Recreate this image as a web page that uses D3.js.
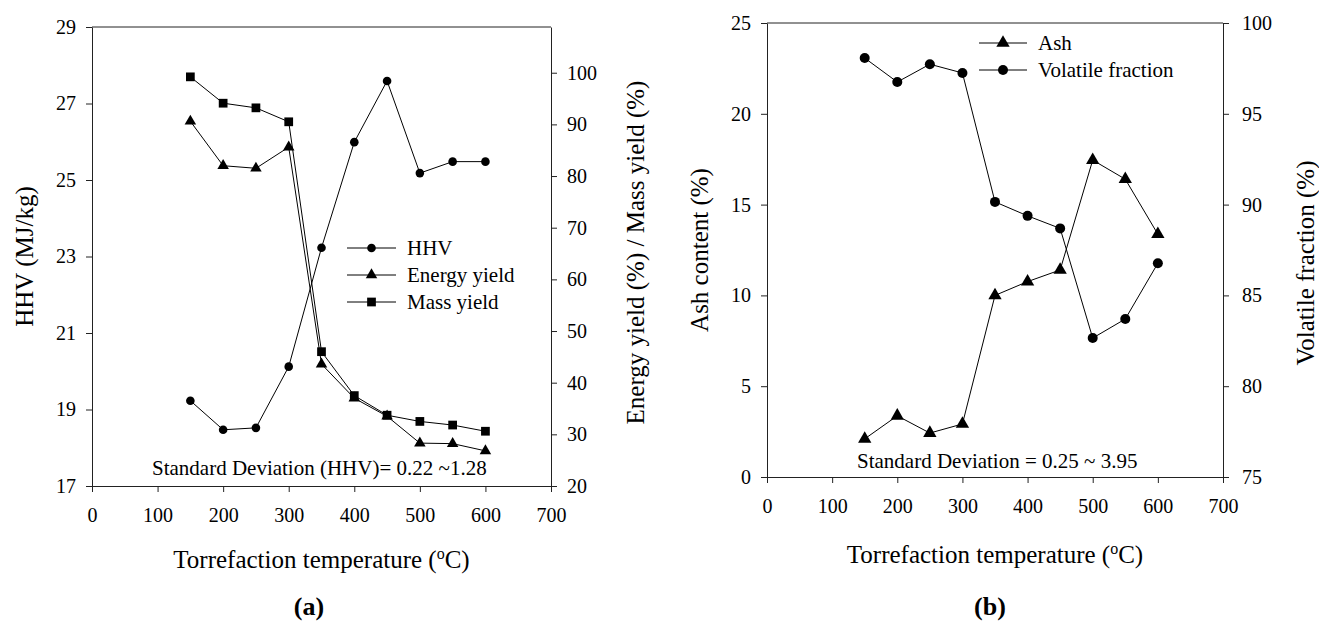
<!DOCTYPE html>
<html>
<head>
<meta charset="utf-8">
<script src="https://cdn.jsdelivr.net/npm/d3@7"></script>
<style>
  body { margin: 0; background: #fff; }
  svg { display: block; font-family: "Liberation Serif", "Times New Roman", serif; }
  .tick text { font-size: 20px; fill: #000; font-family: "Liberation Serif", "Times New Roman", serif; }
  .domain, .tick line { stroke: #222; }
</style>
</head>
<body>
<svg id="chart" width="1319" height="621"></svg>
<script>
// torrefaction temperatures (oC)
const temps = [150, 200, 250, 300, 350, 400, 450, 500, 550, 600];
// panel (a)
const hhv = [19.23, 18.47, 18.52, 20.12, 23.23, 25.99, 27.59, 25.18, 25.48, 25.48];
const energyYield = [90.6, 82.0, 81.5, 85.6, 43.6, 37.0, 33.5, 28.3, 28.2, 26.8];
const massYield = [99.2, 94.1, 93.2, 90.5, 46.0, 37.5, 33.7, 32.5, 31.8, 30.6];
// panel (b)
const ash = [2.1, 3.37, 2.42, 2.92, 10.0, 10.76, 11.4, 17.45, 16.4, 13.37];
const volatileFrac = [98.07, 96.75, 97.73, 97.25, 90.15, 89.38, 88.69, 82.65, 83.7, 86.77];
// tick values
const xTicks = [0, 100, 200, 300, 400, 500, 600, 700];
const hhvTicks = [17, 19, 21, 23, 25, 27, 29];
const yieldTicks = [20, 30, 40, 50, 60, 70, 80, 90, 100];
const ashTicks = [0, 5, 10, 15, 20, 25];
const volTicks = [75, 80, 85, 90, 95, 100];

const svg = d3.select('#chart');

function marker(g, type, x, y, r) {
  if (type === 'circle') {
    g.append('circle').attr('cx', x).attr('cy', y).attr('r', r).attr('fill', '#000');
  } else {
    const sym = type === 'square' ? d3.symbolSquare : d3.symbolTriangle;
    const size = type === 'square' ? (r * 1.9) ** 2 : (r * 2.3) ** 2 * 0.433;
    g.append('path')
     .attr('d', d3.symbol().type(sym).size(size)())
     .attr('transform', `translate(${x},${y})`)
     .attr('fill', '#000');
  }
}

function panel(p) {
  const g = svg.append('g');
  const x = d3.scaleLinear().domain([0, 700]).range([p.left, p.right]);
  const yL = d3.scaleLinear().domain(p.leftDomain).range([p.bottom, p.top]);
  const yR = d3.scaleLinear().domain(p.rightDomain).range([p.bottom, p.top]);

  // frame top
  g.append('line')
   .attr('x1', p.left).attr('x2', p.right)
   .attr('y1', p.top).attr('y2', p.top)
   .attr('stroke', '#222');

  g.append('g')
   .attr('transform', `translate(0,${p.bottom})`)
   .call(d3.axisBottom(x).tickValues(xTicks).tickSize(6).tickSizeOuter(0).tickPadding(16));
  g.append('g')
   .attr('transform', `translate(${p.left},0)`)
   .call(d3.axisLeft(yL).tickValues(p.leftTicks).tickSize(6).tickSizeOuter(0).tickPadding(10));
  g.append('g')
   .attr('transform', `translate(${p.right},0)`)
   .call(d3.axisRight(yR).tickValues(p.rightTicks).tickSize(6).tickSizeOuter(0).tickPadding(p.rPad));
  g.selectAll('.domain').attr('stroke', '#222');

  const line = d3.line();
  p.series.forEach(s => {
    const sc = s.axis === 'L' ? yL : yR;
    const pts = temps.map((t, i) => [x(t), sc(s.values[i])]);
    g.append('path').attr('d', line(pts)).attr('fill', 'none')
     .attr('stroke', '#000').attr('stroke-width', 1);
    pts.forEach(pt => marker(g, s.shape, pt[0], pt[1], s.r));
  });

  // legend
  p.series.forEach((s, i) => {
    const ly = p.legend.y + i * p.legend.dy;
    g.append('line').attr('x1', p.legend.x1).attr('x2', p.legend.x2)
     .attr('y1', ly).attr('y2', ly).attr('stroke', '#000');
    marker(g, s.shape, (p.legend.x1 + p.legend.x2) / 2, ly, s.r);
    g.append('text').attr('x', p.legend.tx).attr('y', ly).attr('dy', '0.35em')
     .attr('font-size', 21).text(s.name);
  });

  // standard deviation note
  g.append('text').attr('x', p.note.x).attr('y', p.note.y)
   .attr('font-size', 21).text(p.note.text);

  // axis titles
  const xt = g.append('text').attr('x', (p.left + p.right) / 2 + p.xTitleShift).attr('y', p.xTitleY)
   .attr('text-anchor', 'middle').attr('font-size', 25);
  xt.append('tspan').text('Torrefaction temperature (');
  xt.append('tspan').attr('font-size', 16).attr('dy', -9).text('o');
  xt.append('tspan').attr('dy', 9).text('C)');

  const mid = (p.top + p.bottom) / 2;
  g.append('text').attr('transform', `translate(${p.lTitleX},${mid}) rotate(-90)`)
   .attr('text-anchor', 'middle').attr('font-size', 25).text(p.leftTitle);
  g.append('text').attr('transform', `translate(${p.rTitleX},${mid + p.rTitleShift}) rotate(-90)`)
   .attr('text-anchor', 'middle').attr('font-size', 25).text(p.rightTitle);

  g.append('text').attr('x', p.tag.x).attr('y', 615).attr('text-anchor', 'middle')
   .attr('font-size', 26).attr('font-weight', 'bold').text(p.tag.text);
}

panel({
  left: 92, right: 551, top: 27, bottom: 486,
  leftDomain: [17, 29], rightDomain: [20, 108.85],
  leftTicks: hhvTicks, rightTicks: yieldTicks, rPad: 10,
  series: [
    {name: 'HHV', values: hhv, axis: 'L', shape: 'circle', r: 4.3},
    {name: 'Energy yield', values: energyYield, axis: 'R', shape: 'triangle', r: 5},
    {name: 'Mass yield', values: massYield, axis: 'R', shape: 'square', r: 4.6}
  ],
  legend: {x1: 347, x2: 396, tx: 407, y: 248, dy: 27},
  note: {x: 152, y: 475, text: 'Standard Deviation (HHV)= 0.22 ~1.28'},
  xTitleY: 568, xTitleShift: 0,
  leftTitle: 'HHV (MJ/kg)', lTitleX: 33,
  rightTitle: 'Energy yield (%) / Mass yield (%)', rTitleX: 644, rTitleShift: -4,
  tag: {x: 309, text: '(a)'}
});

panel({
  left: 767, right: 1223, top: 23, bottom: 477,
  leftDomain: [0, 25], rightDomain: [75, 100],
  leftTicks: ashTicks, rightTicks: volTicks, rPad: 13,
  series: [
    {name: 'Ash', values: ash, axis: 'L', shape: 'triangle', r: 5.8},
    {name: 'Volatile fraction', values: volatileFrac, axis: 'R', shape: 'circle', r: 5}
  ],
  legend: {x1: 979, x2: 1027, tx: 1038, y: 43, dy: 27},
  note: {x: 857, y: 468, text: 'Standard Deviation = 0.25 ~ 3.95'},
  xTitleY: 563, xTitleShift: 0,
  leftTitle: 'Ash content (%)', lTitleX: 708,
  rightTitle: 'Volatile fraction (%)', rTitleX: 1314, rTitleShift: 13,
  tag: {x: 990, text: '(b)'}
});
</script>
</body>
</html>
